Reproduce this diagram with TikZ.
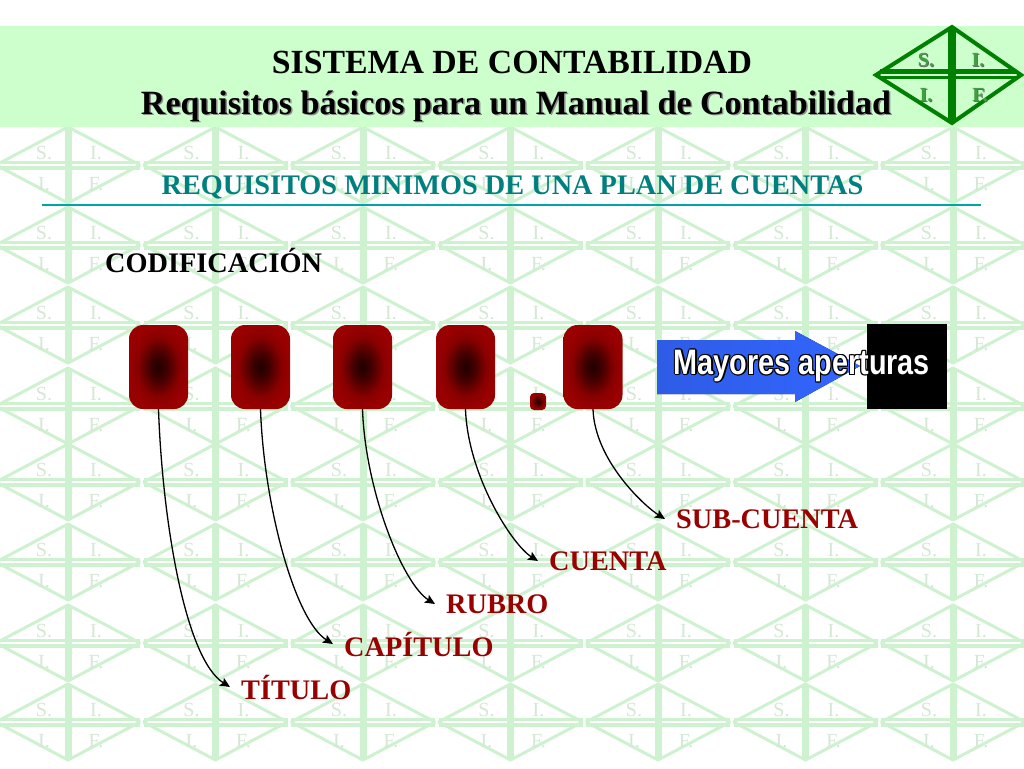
\documentclass[tikz,border=0pt]{standalone}
\usepackage{fontspec}
\setmainfont{Liberation Serif}
\newfontfamily\wordart{Liberation Sans}
\usetikzlibrary{arrows.meta}
\definecolor{bandgreen}{HTML}{CCFFCC}
\definecolor{tilegreen}{HTML}{CEF2D0}
\definecolor{tiletext}{HTML}{D4E8D4}
\definecolor{logogreen}{HTML}{008000}
\definecolor{headteal}{HTML}{007F7F}
\definecolor{labelred}{HTML}{990000}
\definecolor{arrowblue}{HTML}{3366FF}
\pgfdeclareradialshading{cuadrosh}{\pgfpoint{0bp}{0bp}}{color(0bp)=(black!80!labelred); color(8bp)=(black!55!labelred); color(18bp)=(black!10!labelred); color(25bp)=(labelred); color(50bp)=(labelred)}
\begin{document}
\begin{tikzpicture}[x=1pt,y=-1pt,
	cuadro/.style={rectangle, rounded corners=14pt, inner sep=0pt, minimum width=59pt, minimum height=84pt, shading=cuadrosh},
	etiqueta/.style={anchor=west, inner sep=0pt, inner xsep=11pt, text=labelred, font=\fontsize{28.3}{28.3}\selectfont\bfseries},
	conector/.style={black, line width=1.3pt, out=-88, in=148, out looseness=1, in looseness=0.47, -{Stealth[length=10pt,width=9pt,inset=2pt]}},
	marca/.style={text=tiletext, font=\fontsize{20}{20}\selectfont},
	]
	\useasboundingbox (0,0) rectangle (1024,768);
	\fill[white] (0,0) rectangle (1024,768);
	%Fondo
	\begin{scope}
		\clip (0,127) rectangle (1024,768);
		\foreach \cy in {165,245,325,406,482,562,643,722}{
			\foreach \k in {0,...,6}{
				\pgfmathsetmacro{\cx}{68+147.5*\k}
				\draw[tilegreen, line width=3pt, line join=bevel] (\cx-72,\cy) -- (\cx,\cy-38) -- (\cx+72,\cy) -- (\cx,\cy+38) -- cycle;
				\draw[tilegreen, line width=7pt] (\cx,\cy-38) -- (\cx,\cy+38);
				\draw[tilegreen, line width=3.5pt] (\cx-72,\cy-2.5) -- (\cx+72,\cy-2.5);
				\draw[tilegreen, line width=3.5pt] (\cx-72,\cy+3) -- (\cx+72,\cy+3);
				\node[marca] at (\cx-24,\cy-12) {S.};
				\node[marca] at (\cx+28,\cy-12) {I.};
				\node[marca] at (\cx-24,\cy+19) {I.};
				\node[marca] at (\cx+28,\cy+19) {F.};
			}
		}
	\end{scope}
	%Banda
	\fill[bandgreen] (0,26) rectangle (1024,127);
	\node[font=\fontsize{33.8}{33.8}\selectfont\bfseries] (titulo) at (512,62) {SISTEMA DE CONTABILIDAD};
	\node[font=\fontsize{34}{34}\selectfont\bfseries, text=black!45] at (517.5,107) {Requisitos básicos para un Manual de Contabilidad};
	\node[font=\fontsize{34}{34}\selectfont\bfseries] (subtitulo) at (516,106) {Requisitos básicos para un Manual de Contabilidad};
	%Logo
	\draw[logogreen, line width=4pt, line join=miter] (876,75) -- (952,27) -- (1021,75) -- (952,123) -- cycle;
	\draw[logogreen, line width=8pt] (952,27) -- (952,123);
	\draw[logogreen, line width=5pt] (880,71.5) -- (1016,71.5);
	\draw[logogreen, line width=3pt] (880,77.5) -- (1016,77.5);
	\foreach \px/\py/\letra in {926/60/S., 978/60/I., 926/95/I., 980/95/F.}{
		\node[font=\fontsize{20}{20}\selectfont\bfseries, text=black!60] at (\px+1,\py+1) {\letra};
		\node[font=\fontsize{20}{20}\selectfont\bfseries, text=logogreen!75!white] at (\px,\py) {\letra};
	}
	%Encabezado
	\node[font=\fontsize{28.3}{28.3}\selectfont\bfseries, text=headteal] (requisitos) at (512.5,187.5) {REQUISITOS MINIMOS DE UNA PLAN DE CUENTAS};
	\coordinate (ra) at (42,205);
	\coordinate (rb) at (981,205);
	\draw[teal!70!cyan, line width=1.2pt] (ra) -- (rb);
	\node[anchor=west, inner sep=0pt, font=\fontsize{28.3}{28.3}\selectfont\bfseries] (codif) at (105,260) {CODIFICACIÓN};
	%Cuadros
	\node[cuadro] (c1) at (158.5,367) {};
	\node[cuadro] (c2) at (260.5,367) {};
	\node[cuadro] (c3) at (362.5,367) {};
	\node[cuadro] (c4) at (465.5,367) {};
	\node[cuadro] (c5) at (593,367) {};
	\node[cuadro, rounded corners=4pt, minimum width=16pt, minimum height=17pt] (punto) at (538,401.5) {};
	%Flecha
	\fill[left color=arrowblue!90!black, right color=arrowblue] (657,340) -- (795,340) -- (795,331) -- (860,366) -- (795,402) -- (795,394) -- (657,394) -- cycle;
	\node[fill=black, inner sep=0pt, minimum width=80pt, minimum height=85pt] (negro) at (907,366.5) {};
	\foreach \dx/\dy in {-1.1/0,1.1/0,0/-1.1,0/1.1,-.8/-.8,.8/-.8,-.8/.8,.8/.8}{
		\node[font=\wordart\fontsize{30}{30}\selectfont\bfseries, text=black, xscale=0.96, yscale=1.18] at (802+\dx,366+\dy) {Mayores aperturas};
	}
	\node[font=\wordart\fontsize{30}{30}\selectfont\bfseries, text=white, xscale=0.96, yscale=1.18] (mayores) at (802,366) {Mayores aperturas};
	%Etiquetas
	\node[etiqueta] (titu) at (230,687) {TÍTULO};
	\node[etiqueta] (capi) at (333,644) {CAPÍTULO};
	\node[etiqueta] (rubr) at (435,604) {RUBRO};
	\node[etiqueta] (cuen) at (538,561) {CUENTA};
	\node[etiqueta] (subc) at (665,519) {SUB-CUENTA};
	%Conectores
	\draw[conector] (c1.south) to (titu.west);
	\draw[conector] (c2.south) to (capi.west);
	\draw[conector] (c3.south) to (rubr.west);
	\draw[conector] (c4.south) to (cuen.west);
	\draw[conector] (c5.south) to (subc.west);
\end{tikzpicture}
\end{document}
